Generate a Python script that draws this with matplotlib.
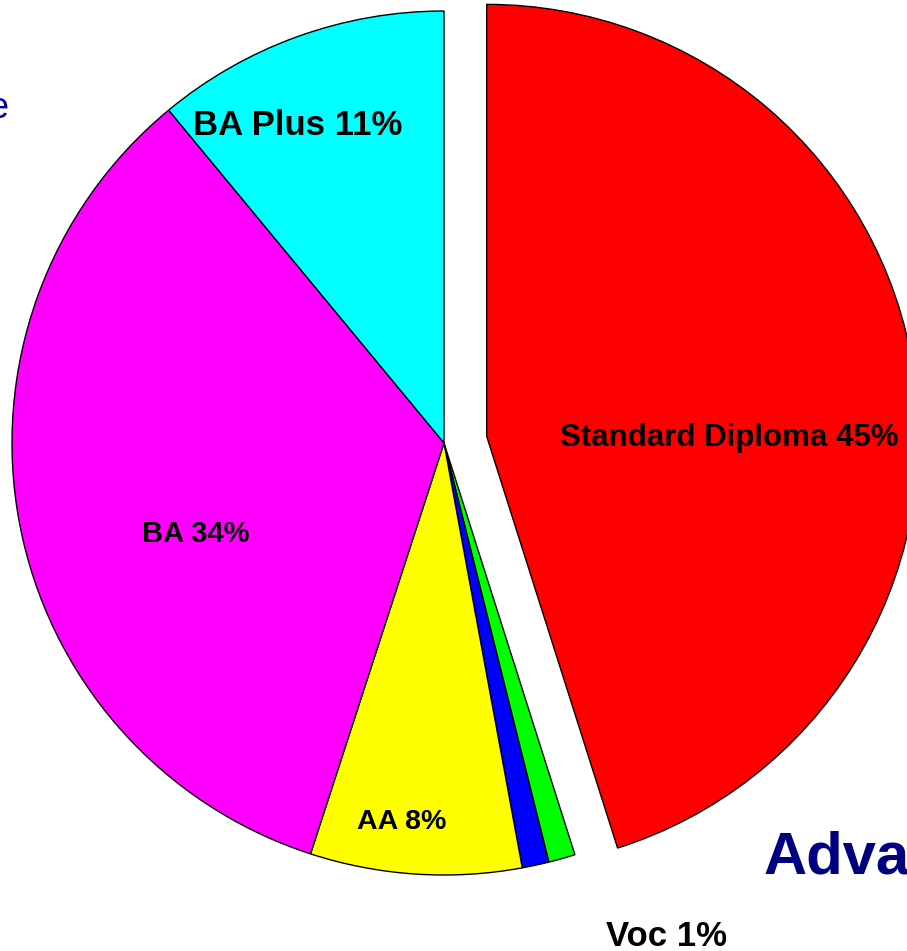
import matplotlib
matplotlib.use("Agg")
import matplotlib.pyplot as plt

categories = ["Standard Diploma", "Voc", "Other", "AA", "BA", "BA Plus"]
values = [45.1, 1.0, 1.0, 7.9, 34.0, 11.0]
colors = ["#FF0000", "#00FF00", "#0000FF", "#FFFF00", "#FF00FF", "#00FFFF"]
explode = [0.1, 0, 0, 0, 0, 0]
label_texts = ["Standard Diploma 45%", "Voc 1%", None, "AA 8%", "BA 34%", "BA Plus 11%"]

W, H = 907, 951
R = 432
fig = plt.figure(figsize=(W / 100, H / 100), dpi=100)
ax = fig.add_axes([0, 0, 1, 1])

ax.pie(values, colors=colors, explode=[e * R for e in explode], startangle=90,
       counterclock=False, center=(444, H - 443), radius=R, frame=True,
       wedgeprops=dict(edgecolor="black", linewidth=1.0))
ax.set_xlim(0, W)
ax.set_ylim(0, H)
ax.set_aspect("equal")
ax.axis("off")

font = "Liberation Sans"
# label placements (x center, baseline y in pixels from top, size)
placements = {
    "Standard Diploma 45%": (729, 446, 22.5),
    "Voc 1%": (666, 946, 25),
    "AA 8%": (402, 829, 20.5),
    "BA 34%": (196, 542, 21),
    "BA Plus 11%": (298, 135, 25),
}
for t in label_texts:
    if t is None:
        continue
    x, yb, s = placements[t]
    ax.text(x, H - yb, t, ha="center", va="baseline", fontsize=s,
            fontweight="bold", family=font, color="black")

ax.text(764, H - 874, "Advanced", ha="left", va="baseline", fontsize=43,
        fontweight="bold", family=font, color="#000080")
ax.text(9, H - 118, "e", ha="right", va="baseline", fontsize=26,
        family=font, color="#000099")

fig.savefig("out.png", dpi=100)
